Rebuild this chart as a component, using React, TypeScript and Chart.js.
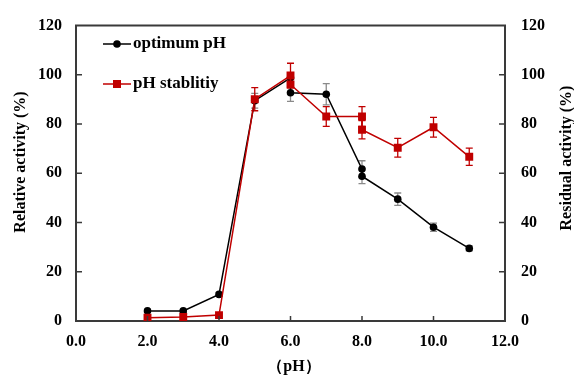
import React, { useEffect, useRef } from "react";
import { Chart, registerables } from "chart.js";

Chart.register(...registerables);

const xTicks = [0, 2, 4, 6, 8, 10, 12];
const yTicks = [0, 20, 40, 60, 80, 100, 120];

const optimumX = [2, 3, 4, 5, 6, 6, 7, 8, 8, 9, 10, 11];
const optimumY = [4.1, 4.1, 10.8, 89.5, 98.8, 92.7, 92.1, 61.7, 58.8, 49.5, 38.1, 29.5];
const optimumErr = [0.6, 0.6, 0.8, 3, 0, 3.5, 4.3, 3.4, 3.0, 2.5, 1.7, 1.0];

const stabilityX = [2, 3, 4, 5, 6, 6, 7, 8, 8, 9, 10, 11];
const stabilityY = [1.3, 1.6, 2.4, 90.1, 99.7, 96.1, 83.1, 83.1, 77.7, 70.4, 78.7, 66.7];
const stabilityErr = [0, 0, 0, 4.7, 5.0, 0, 4.0, 4.0, 3.7, 3.8, 4.0, 3.5];

const seriesNames = ["optimum pH", "pH stablitiy"];
const xTitle = "（pH）";
const yTitle = "Relative activity (%)";
const y2Title = "Residual activity (%)";

const RED = "#C00000";
const BLACK = "#000000";
const AXIS = "#3a3a3a";
const FONT = "'Liberation Serif', 'Times New Roman', serif";

export default function App() {
  const ref = useRef<HTMLCanvasElement | null>(null);

  useEffect(() => {
    const canvas = ref.current;
    if (!canvas) return;

    const errs = [optimumErr, stabilityErr];
    const errColors = ["#8a8a8a", RED];

    const extras = {
      id: "extras",
      beforeDatasetsDraw(chart: any) {
        const ctx = chart.ctx;
        const xs = chart.scales.x;
        const ys = chart.scales.y;
        chart.data.datasets.forEach((ds: any, di: number) => {
          const e = errs[di];
          ctx.save();
          ctx.strokeStyle = errColors[di];
          ctx.lineWidth = 1.3;
          ds.data.forEach((p: any, i: number) => {
            if (!e[i]) return;
            const px = xs.getPixelForValue(p.x);
            const top = ys.getPixelForValue(p.y + e[i]);
            const bot = ys.getPixelForValue(p.y - e[i]);
            ctx.beginPath();
            ctx.moveTo(px, top);
            ctx.lineTo(px, bot);
            ctx.moveTo(px - 3.5, top);
            ctx.lineTo(px + 3.5, top);
            ctx.moveTo(px - 3.5, bot);
            ctx.lineTo(px + 3.5, bot);
            ctx.stroke();
          });
          ctx.restore();
        });
      },
      afterDraw(chart: any) {
        const ctx = chart.ctx;
        const a = chart.chartArea;
        const xs = chart.scales.x;
        const ys = chart.scales.y;
        const y2 = chart.scales.y2;
        ctx.save();
        ctx.strokeStyle = AXIS;
        ctx.lineWidth = 2;
        // top border
        ctx.beginPath();
        ctx.moveTo(a.left - 1, a.top);
        ctx.lineTo(a.right + 1, a.top);
        ctx.stroke();
        // inward ticks
        ctx.lineWidth = 1.5;
        ctx.beginPath();
        xTicks.forEach((v) => {
          if (v === xTicks[0] || v === xTicks[xTicks.length - 1]) return;
          const px = xs.getPixelForValue(v);
          ctx.moveTo(px, a.bottom);
          ctx.lineTo(px, a.bottom - 5);
        });
        yTicks.forEach((v) => {
          if (v === yTicks[0] || v === yTicks[yTicks.length - 1]) return;
          const py = ys.getPixelForValue(v);
          ctx.moveTo(a.left, py);
          ctx.lineTo(a.left + 6, py);
          const py2 = y2.getPixelForValue(v);
          ctx.moveTo(a.right, py2);
          ctx.lineTo(a.right - 6, py2);
        });
        ctx.stroke();

        // titles
        ctx.fillStyle = "#000";
        ctx.font = `bold 16px ${FONT}`;
        ctx.textAlign = "center";
        ctx.textBaseline = "middle";
        ctx.fillText(xTitle, 294, 367);
        ctx.save();
        ctx.translate(21, 162);
        ctx.rotate(-Math.PI / 2);
        ctx.fillText(yTitle, 0, 0);
        ctx.restore();
        ctx.save();
        ctx.translate(567, 158);
        ctx.rotate(-Math.PI / 2);
        ctx.fillText(y2Title, 0, 0);
        ctx.restore();

        // legend
        const items = [
          { name: seriesNames[0], color: BLACK, y: 44, style: "circle" },
          { name: seriesNames[1], color: RED, y: 84, style: "rect" },
        ];
        items.forEach((it) => {
          ctx.strokeStyle = it.color;
          ctx.fillStyle = it.color;
          ctx.lineWidth = 1.5;
          ctx.beginPath();
          ctx.moveTo(103, it.y);
          ctx.lineTo(131, it.y);
          ctx.stroke();
          if (it.style === "circle") {
            ctx.beginPath();
            ctx.arc(117, it.y, 3.8, 0, Math.PI * 2);
            ctx.fill();
          } else {
            ctx.fillRect(113, it.y - 4, 8, 8);
          }
          ctx.fillStyle = "#000";
          ctx.font = `bold 17px ${FONT}`;
          ctx.textAlign = "left";
          ctx.textBaseline = "middle";
          ctx.fillText(it.name, 133, it.y);
        });
        ctx.restore();
      },
    };

    const tickFont = { family: FONT, size: 16, weight: "bold" as const };

    const chart = new Chart(canvas, {
      type: "line",
      data: {
        datasets: [
          {
            label: seriesNames[0],
            data: optimumX.map((x, i) => ({ x, y: optimumY[i] })),
            borderColor: BLACK,
            backgroundColor: BLACK,
            borderWidth: 1.5,
            pointStyle: "circle",
            pointRadius: 3.8,
            pointBorderWidth: 0,
            tension: 0,
            yAxisID: "y",
            order: 1,
          },
          {
            label: seriesNames[1],
            data: stabilityX.map((x, i) => ({ x, y: stabilityY[i] })),
            borderColor: RED,
            backgroundColor: RED,
            borderWidth: 1.5,
            pointStyle: "rect",
            pointRadius: 5.6,
            pointBorderWidth: 0,
            tension: 0,
            yAxisID: "y",
            order: 0,
          },
        ],
      },
      options: {
        responsive: false,
        animation: false,
        devicePixelRatio: 1,
        layout: { padding: { top: 21, left: 0, right: 0, bottom: 0 } },
        plugins: {
          legend: { display: false },
          tooltip: { enabled: false },
        },
        scales: {
          x: {
            type: "linear",
            min: 0,
            max: 12,
            afterBuildTicks: (s: any) => {
              s.ticks = xTicks.map((v) => ({ value: v }));
            },
            afterFit: (s: any) => {
              s.height = 55;
            },
            ticks: {
              callback: (v: any) => Number(v).toFixed(1),
              font: tickFont,
              color: "#000",
              padding: 11,
              maxRotation: 0,
              autoSkip: false,
            },
            grid: { display: false, drawTicks: false },
            border: { display: true, color: AXIS, width: 2 },
          },
          y: {
            type: "linear",
            position: "left",
            min: 0,
            max: 120,
            afterBuildTicks: (s: any) => {
              s.ticks = yTicks.map((v) => ({ value: v }));
            },
            afterFit: (s: any) => {
              s.width = 76;
            },
            ticks: { font: tickFont, color: "#000", padding: 14 },
            grid: { display: false, drawTicks: false },
            border: { display: true, color: AXIS, width: 2 },
          },
          y2: {
            type: "linear",
            position: "right",
            min: 0,
            max: 120,
            afterBuildTicks: (s: any) => {
              s.ticks = yTicks.map((v) => ({ value: v }));
            },
            afterFit: (s: any) => {
              s.width = 69;
            },
            ticks: { font: tickFont, color: "#000", padding: 16 },
            grid: { display: false, drawTicks: false },
            border: { display: true, color: AXIS, width: 2 },
          },
        },
      },
      plugins: [extras],
    });

    return () => chart.destroy();
  }, []);

  return (
    <div style={{ position: "fixed", left: 0, top: 0, width: 574, height: 376, background: "#fff" }}>
      <canvas ref={ref} width={574} height={376} style={{ display: "block" }} />
    </div>
  );
}
